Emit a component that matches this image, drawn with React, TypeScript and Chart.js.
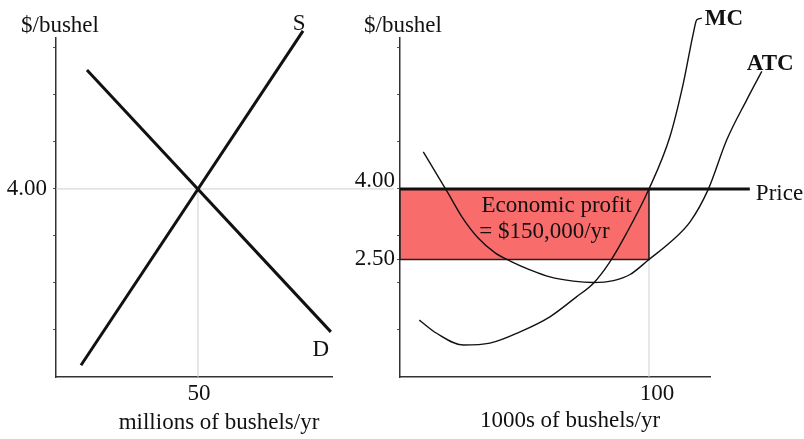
import React, { useEffect, useRef } from "react";
import { Chart, registerables } from "chart.js";

Chart.register(...registerables);

// ---------- data ----------
// Left panel: market (millions of bushels/yr, $/bushel)
const marketPrice = 4.0;
const marketQuantity = 50;
const supplyPoints = [
  { x: 8.8, y: 0.25 },
  { x: 87, y: 7.36 },
];
const demandPoints = [
  { x: 10.9, y: 6.53 },
  { x: 96.8, y: 0.96 },
];
// Right panel: firm (1000s of bushels/yr, $/bushel)
const firmPrice = 4.0;
const firmQuantity = 100;
const atcAtQuantity = 2.5;
const mcPoints = [
  { x: 7.75, y: 1.21 },
  { x: 14.7, y: 0.93 },
  { x: 25.4, y: 0.68 },
  { x: 36.1, y: 0.72 },
  { x: 48.2, y: 0.96 },
  { x: 60.2, y: 1.28 },
  { x: 71.0, y: 1.71 },
  { x: 77.6, y: 1.99 },
  { x: 84.3, y: 2.45 },
  { x: 91.0, y: 3.06 },
  { x: 100, y: 4.0 },
  { x: 108.4, y: 5.11 },
  { x: 113.8, y: 6.25 },
  { x: 117.8, y: 7.31 },
  { x: 119.2, y: 7.6 },
  { x: 121.2, y: 7.63 },
];
const atcPoints = [
  { x: 9.36, y: 4.79 },
  { x: 19.3, y: 3.91 },
  { x: 24.8, y: 3.41 },
  { x: 31.3, y: 2.96 },
  { x: 38.2, y: 2.64 },
  { x: 44.9, y: 2.45 },
  { x: 52.2, y: 2.28 },
  { x: 60.2, y: 2.13 },
  { x: 69.6, y: 2.04 },
  { x: 77.6, y: 2.01 },
  { x: 85.7, y: 2.05 },
  { x: 92.4, y: 2.18 },
  { x: 100, y: 2.5 },
  { x: 108.4, y: 2.86 },
  { x: 116.5, y: 3.3 },
  { x: 123.7, y: 3.98 },
  { x: 131.2, y: 5.04 },
  { x: 139.2, y: 5.89 },
  { x: 145.3, y: 6.5 },
];
const priceLineEnd = 140.5;
const leftXMax = 97.2;
const rightXMax = 124.5;
const yMax = 7.21;
const yTickValues = [1, 2, 3, 4, 5, 6, 7];
const leftXTicks = [50];
const rightXTicks = [100];
const rightYTickValues = [1, 2, 2.5, 3, 4, 5, 6, 7];
const leftYLabels = { 4: "4.00" } as Record<number, string>;
const rightYLabels = { 4: "4.00", 2.5: "2.50" } as Record<number, string>;
const profitText = ["Economic profit", "= $150,000/yr"];

// ---------- styles ----------
const FONT = "'Liberation Serif', 'Times New Roman', serif";
const FS = 23;
const INK = "#111";
const GRIDC = "#cfcfcf";

type Item = {
  text: string;
  at: (c: any) => [number, number];
  align?: CanvasTextAlign;
  bold?: boolean;
};

function labelPlugin(id: string, items: Item[]) {
  return {
    id,
    afterDraw(chart: any) {
      const ctx = chart.ctx;
      ctx.save();
      ctx.fillStyle = INK;
      ctx.textBaseline = "middle";
      for (const it of items) {
        const [x, y] = it.at(chart);
        ctx.font = `${it.bold ? "bold " : ""}${FS}px ${FONT}`;
        ctx.textAlign = it.align || "center";
        ctx.fillText(it.text, x, y);
      }
      ctx.restore();
    },
  };
}

const px = (c: any, x: number, y: number): [number, number] => [
  c.scales.x.getPixelForValue(x),
  c.scales.y.getPixelForValue(y),
];

function baseScales(opts: {
  xMax: number;
  yWidth: number;
  xTicks: number[];
  yTicks: number[];
  yLabels: Record<number, string>;
  yPad: number;
  raiseTop?: boolean;
  xLabelOffset: number;
}) {
  const setX = (s: any) => {
    s.min = 0;
    s.max = opts.xMax;
  };
  return {
    x: {
      type: "linear",
      bounds: "data",
      afterDataLimits: setX,
      afterFit: (s: any) => {
        s.height = 62;
      },
      afterBuildTicks: (s: any) => {
        setX(s);
        s.ticks = opts.xTicks.map((v) => ({ value: v }));
      },
      ticks: {
        autoSkip: false,
        font: { family: FONT, size: FS },
        color: INK,
        padding: 3,
        labelOffset: opts.xLabelOffset,
        callback: (v: any) => String(v),
      },
      grid: { display: false, drawTicks: false },
      border: { display: true, color: "#333", width: 1.5 },
    },
    y: {
      type: "linear",
      min: 0,
      max: yMax,
      afterFit: (s: any) => {
        s.width = opts.yWidth;
      },
      afterBuildTicks: (s: any) => {
        s.ticks = opts.yTicks.map((v) => ({ value: v }));
      },
      ticks: {
        autoSkip: false,
        color: INK,
        padding: opts.yPad,
        font: (ctx: any) =>
          opts.raiseTop && ctx.tick && ctx.tick.value === 4
            ? { family: FONT, size: FS, lineHeight: "13px" }
            : { family: FONT, size: FS },
        labelOffset: opts.raiseTop ? -1 : 0,
        callback: (v: any) => {
          const t = opts.yLabels[v] || "";
          return opts.raiseTop && v === 4 ? [t, ""] : t;
        },
      },
      grid: {
        display: true,
        drawOnChartArea: false,
        drawTicks: true,
        tickLength: 3,
        tickColor: "#555",
        tickWidth: 1,
      },
      border: { display: true, color: "#333", width: 1.5 },
    },
  };
}

export default function App() {
  const leftRef = useRef<HTMLCanvasElement>(null);
  const rightRef = useRef<HTMLCanvasElement>(null);

  useEffect(() => {
    const line = (data: any[], extra: any = {}) => ({
      data,
      showLine: true,
      pointRadius: 0,
      pointHoverRadius: 0,
      borderColor: "#111",
      borderWidth: 3,
      fill: false,
      clip: false,
      ...extra,
    });

    const left = new Chart(leftRef.current as HTMLCanvasElement, {
      type: "scatter",
      data: {
        datasets: [
          line(supplyPoints, { label: "S", order: 1 }),
          line(demandPoints, { label: "D", order: 1 }),
          line(
            [
              { x: 0, y: marketPrice },
              { x: 119, y: marketPrice },
            ],
            { label: "price grid", borderColor: GRIDC, borderWidth: 1, order: 9 }
          ),
          line(
            [
              { x: marketQuantity, y: 0 },
              { x: marketQuantity, y: marketPrice },
            ],
            { label: "qty grid", borderColor: GRIDC, borderWidth: 1, order: 9 }
          ),
        ],
      },
      options: {
        responsive: false,
        animation: false,
        layout: { padding: { top: 38, right: 68, left: 0, bottom: 0 } },
        plugins: { legend: { display: false }, tooltip: { enabled: false } },
        events: [],
        scales: baseScales({
          xMax: leftXMax,
          yWidth: 56,
          xTicks: leftXTicks,
          yTicks: yTickValues,
          yLabels: leftYLabels,
          yPad: 6,
          xLabelOffset: 1,
        }) as any,
      },
      plugins: [
        labelPlugin("leftLabels", [
          { text: "$/bushel", at: (c) => [c.chartArea.left + 4, c.chartArea.top - 12] },
          {
            text: "millions of bushels/yr",
            at: (c) => [c.chartArea.left + 163, c.chartArea.bottom + 46],
          },
          {
            text: "S",
            at: (c) => {
              const [x, y] = px(c, supplyPoints[1].x, supplyPoints[1].y);
              return [x - 4, y - 7];
            },
          },
          {
            text: "D",
            at: (c) => {
              const [x, y] = px(c, demandPoints[1].x, demandPoints[1].y);
              return [x - 10, y + 18];
            },
          },
        ]),
      ],
    } as any);

    const right = new Chart(rightRef.current as HTMLCanvasElement, {
      type: "scatter",
      data: {
        datasets: [
          line(mcPoints, {
            label: "MC",
            borderWidth: 1.4,
            cubicInterpolationMode: "monotone",
            order: 1,
          }),
          line(atcPoints, {
            label: "ATC",
            borderWidth: 1.4,
            cubicInterpolationMode: "monotone",
            order: 1,
          }),
          line(
            [
              { x: 0, y: firmPrice },
              { x: priceLineEnd, y: firmPrice },
            ],
            { label: "Price", borderWidth: 3, order: 2 }
          ),
          line(
            [
              { x: 0, y: firmPrice },
              { x: firmQuantity, y: firmPrice },
              { x: firmQuantity, y: atcAtQuantity },
              { x: 0, y: atcAtQuantity },
              { x: 0, y: firmPrice },
            ],
            {
              label: "profit",
              borderWidth: 1.6,
              borderColor: "#222",
              backgroundColor: "rgb(249,108,108)",
              fill: "shape",
              order: 5,
            }
          ),
          line(
            [
              { x: firmQuantity, y: 0 },
              { x: firmQuantity, y: atcAtQuantity },
            ],
            { label: "qty grid", borderColor: GRIDC, borderWidth: 1, order: 9 }
          ),
        ],
      },
      options: {
        responsive: false,
        animation: false,
        layout: { padding: { top: 38, right: 94, left: 0, bottom: 0 } },
        plugins: { legend: { display: false }, tooltip: { enabled: false } },
        events: [],
        scales: baseScales({
          xMax: rightXMax,
          yWidth: 70,
          xTicks: rightXTicks,
          yTicks: rightYTickValues,
          yLabels: rightYLabels,
          yPad: 2,
          raiseTop: true,
          xLabelOffset: 8,
        }) as any,
      },
      plugins: [
        labelPlugin("rightLabels", [
          { text: "$/bushel", at: (c) => [c.chartArea.left + 3, c.chartArea.top - 12] },
          {
            text: "1000s of bushels/yr",
            at: (c) => [c.chartArea.left + 170, c.chartArea.bottom + 44],
          },
          {
            text: profitText[0],
            at: (c) => {
              const [x, y] = px(c, firmQuantity / 2, firmPrice);
              return [x + 32, y + 17];
            },
          },
          {
            text: profitText[1],
            at: (c) => {
              const [x, y] = px(c, firmQuantity / 2, firmPrice);
              return [x + 20, y + 43];
            },
          },
          {
            text: "Price",
            align: "left",
            at: (c) => {
              const [x, y] = px(c, priceLineEnd, firmPrice);
              return [x + 6, y + 5];
            },
          },
          {
            text: "MC",
            bold: true,
            align: "left",
            at: (c) => {
              const p = mcPoints[mcPoints.length - 1];
              const [x, y] = px(c, p.x, p.y);
              return [x + 3, y + 1];
            },
          },
          {
            text: "ATC",
            bold: true,
            align: "left",
            at: (c) => {
              const p = atcPoints[atcPoints.length - 1];
              const [x, y] = px(c, p.x, p.y);
              return [x - 15, y - 7];
            },
          },
        ]),
      ],
    } as any);

    return () => {
      left.destroy();
      right.destroy();
    };
  }, []);

  return (
    <div
      style={{
        position: "fixed",
        left: 0,
        top: 0,
        width: 804,
        height: 439,
        background: "#fff",
        overflow: "hidden",
      }}
    >
      <canvas
        ref={leftRef}
        width={400}
        height={439}
        style={{ position: "absolute", left: 0, top: 0, width: 400, height: 439 }}
      />
      <canvas
        ref={rightRef}
        width={474}
        height={439}
        style={{ position: "absolute", left: 330, top: 0, width: 474, height: 439 }}
      />
    </div>
  );
}
